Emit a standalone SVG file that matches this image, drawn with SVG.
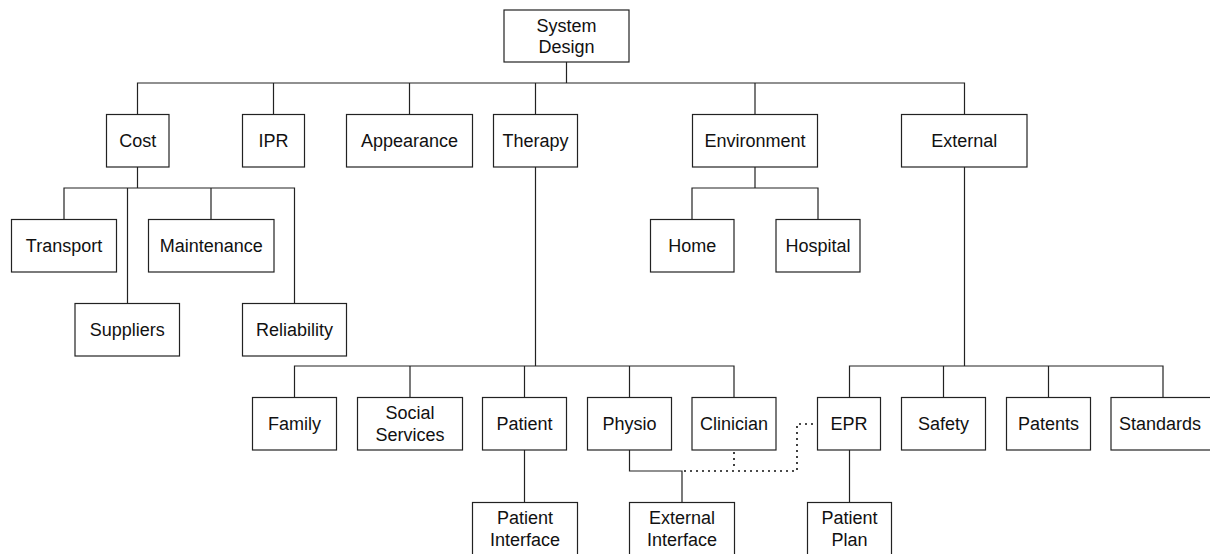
<svg xmlns="http://www.w3.org/2000/svg" width="1210" height="554" viewBox="0 0 1210 554">
<style>
.box{fill:#fff;stroke:#222;stroke-width:1.2}
.lbl{font-family:"Liberation Sans",Arial,sans-serif;font-size:18px;fill:#111;text-anchor:middle}
.conn{fill:none;stroke:#222;stroke-width:1.2}
.dot{fill:none;stroke:#111;stroke-width:1.6;stroke-dasharray:2 4}
</style>
<rect width="1210" height="554" fill="#fff"/>
<g id="connectors">
<path class="conn" d="M566.5 62V83M137.5 114.5V83H964.5V114.5M273.5 83V114.5M409.5 83V114.5M535.5 83V114.5M755 83V114.5"/>
<path class="conn" d="M137.5 167V188M64 219.5V188H294.5V303.5M127.5 188V303.5M211 188V219.5"/>
<path class="conn" d="M755 167V188M692 219.5V188H818V219.5"/>
<path class="conn" d="M535.5 167V366M294.5 397.5V366H734V397.5M410 366V397.5M524.5 366V397.5M629.5 366V397.5"/>
<path class="conn" d="M964.5 167V366M849.5 397.5V366H1163V397.5M943.5 366V397.5M1048.5 366V397.5"/>
<path class="conn" d="M524.5 450V502.5M629.5 450V471H682V502.5M849.5 450V502.5"/>
<path class="dot" d="M684 471H797V424H813"/>
<path class="dot" d="M734 452V469"/>
</g>
<g id="n-system-design"><rect class="box" x="504" y="10" width="125" height="52"/><text class="lbl" x="566.5" y="31.5">System</text><text class="lbl" x="566.5" y="53">Design</text></g>
<g id="n-cost"><rect class="box" x="106.5" y="114.5" width="62.5" height="52.5"/><text class="lbl" x="137.75" y="147.3">Cost</text></g>
<g id="n-ipr"><rect class="box" x="242.5" y="114.5" width="62" height="52.5"/><text class="lbl" x="273.5" y="147.3">IPR</text></g>
<g id="n-appearance"><rect class="box" x="346.5" y="114.5" width="126" height="52.5"/><text class="lbl" x="409.5" y="147.3">Appearance</text></g>
<g id="n-therapy"><rect class="box" x="493.5" y="114.5" width="84" height="52.5"/><text class="lbl" x="535.5" y="147.3">Therapy</text></g>
<g id="n-environment"><rect class="box" x="692.5" y="114.5" width="125" height="52.5"/><text class="lbl" x="755" y="147.3">Environment</text></g>
<g id="n-external"><rect class="box" x="901.5" y="114.5" width="125.5" height="52.5"/><text class="lbl" x="964.25" y="147.3">External</text></g>
<g id="n-transport"><rect class="box" x="11.5" y="219.5" width="105" height="52.5"/><text class="lbl" x="64" y="252.3">Transport</text></g>
<g id="n-maintenance"><rect class="box" x="148.5" y="219.5" width="125.5" height="52.5"/><text class="lbl" x="211.25" y="252.3">Maintenance</text></g>
<g id="n-suppliers"><rect class="box" x="75" y="303.5" width="104.5" height="52.5"/><text class="lbl" x="127.25" y="336.3">Suppliers</text></g>
<g id="n-reliability"><rect class="box" x="242.5" y="303.5" width="104" height="52.5"/><text class="lbl" x="294.5" y="336.3">Reliability</text></g>
<g id="n-home"><rect class="box" x="650.5" y="219.5" width="83.5" height="52.5"/><text class="lbl" x="692.25" y="252.3">Home</text></g>
<g id="n-hospital"><rect class="box" x="776" y="219.5" width="84" height="52.5"/><text class="lbl" x="818" y="252.3">Hospital</text></g>
<g id="n-family"><rect class="box" x="252.5" y="397.5" width="84" height="52.5"/><text class="lbl" x="294.5" y="430.3">Family</text></g>
<g id="n-social-services"><rect class="box" x="357.5" y="397.5" width="105" height="52.5"/><text class="lbl" x="410" y="419.2">Social</text><text class="lbl" x="410" y="440.8">Services</text></g>
<g id="n-patient"><rect class="box" x="482.5" y="397.5" width="84" height="52.5"/><text class="lbl" x="524.5" y="430.3">Patient</text></g>
<g id="n-physio"><rect class="box" x="587.5" y="397.5" width="84" height="52.5"/><text class="lbl" x="629.5" y="430.3">Physio</text></g>
<g id="n-clinician"><rect class="box" x="692" y="397.5" width="84" height="52.5"/><text class="lbl" x="734" y="430.3">Clinician</text></g>
<g id="n-epr"><rect class="box" x="817.5" y="397.5" width="63" height="52.5"/><text class="lbl" x="849" y="430.3">EPR</text></g>
<g id="n-safety"><rect class="box" x="901.5" y="397.5" width="84" height="52.5"/><text class="lbl" x="943.5" y="430.3">Safety</text></g>
<g id="n-patents"><rect class="box" x="1006.5" y="397.5" width="84" height="52.5"/><text class="lbl" x="1048.5" y="430.3">Patents</text></g>
<g id="n-standards"><rect class="box" x="1111" y="397.5" width="104" height="52.5"/><text class="lbl" x="1160" y="430.3">Standards</text></g>
<g id="n-patient-interface"><rect class="box" x="472.5" y="502.5" width="105" height="52.5"/><text class="lbl" x="525" y="524.2">Patient</text><text class="lbl" x="525" y="545.8">Interface</text></g>
<g id="n-external-interface"><rect class="box" x="629.5" y="502.5" width="105" height="52.5"/><text class="lbl" x="682" y="524.2">External</text><text class="lbl" x="682" y="545.8">Interface</text></g>
<g id="n-patient-plan"><rect class="box" x="807.5" y="502.5" width="84" height="52.5"/><text class="lbl" x="849.5" y="524.2">Patient</text><text class="lbl" x="849.5" y="545.8">Plan</text></g>
</svg>
